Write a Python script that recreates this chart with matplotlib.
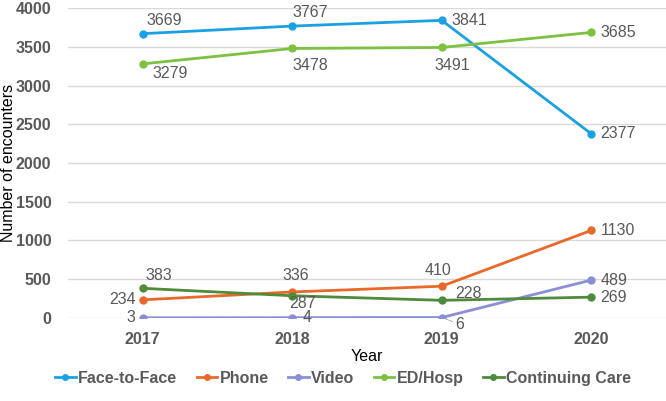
import matplotlib
matplotlib.use("Agg")
import matplotlib.pyplot as plt

plt.rcParams['font.family'] = ['Liberation Sans', 'DejaVu Sans']

years = ['2017', '2018', '2019', '2020']
face_to_face = [3669, 3767, 3841, 2377]
phone = [234, 336, 410, 1130]
video = [3, 4, 6, 489]
ed_hosp = [3279, 3478, 3491, 3685]
continuing_care = [383, 287, 228, 269]

series = [
    ('Face-to-Face', face_to_face, '#1ba1e2'),
    ('Phone', phone, '#e8692a'),
    ('Video', video, '#8a8fd4'),
    ('ED/Hosp', ed_hosp, '#7dc142'),
    ('Continuing Care', continuing_care, '#4e8b3a'),
]

# label offsets in pixels (dx, dy up-positive) and alignment
label_pos = {
    'Face-to-Face': [(22, 13, 'center'), (18, 14, 'center'), (10, 0, 'left'), (9, 0, 'left')],
    'Phone': [(-7, 0, 'right'), (4, 16, 'center'), (-4, 16, 'center'), (10, 0, 'left')],
    'Video': [(-7, 0, 'right'), (10, 0, 'left'), (14, -7, 'left'), (9, 0, 'left')],
    'ED/Hosp': [(27, -10, 'center'), (18, -17, 'center'), (11, -18, 'center'), (9, 0, 'left')],
    'Continuing Care': [(16, 13, 'center'), (10, -8, 'center'), (14, 7, 'left'), (9, 0, 'left')],
}

fig = plt.figure(figsize=(6.66, 4.01), dpi=100)
ax = fig.add_axes([0.102, 0.207, 0.898, 0.773])

x = range(len(years))
for name, vals, col in series:
    ax.plot(x, vals, '-o', color=col, lw=2, ms=5, label=name, zorder=3)
    for i, v in enumerate(vals):
        dx, dy, ha = label_pos[name][i]
        arrow = None
        if name == 'Video' and i == 2:
            arrow = dict(arrowstyle='-', color='#a6a6a6', lw=0.6, shrinkA=0, shrinkB=3)
        ax.annotate(str(v), (i, v), xytext=(dx, dy), textcoords='offset pixels',
                    ha=ha, va='center', fontsize=11.5, color='#595959',
                    arrowprops=arrow)

ax.set_xlim(-0.5, 3.5)
ax.set_ylim(0, 4000)
ax.set_yticks(range(0, 4001, 500))
ax.set_xticks(list(x))
ax.set_xticklabels(years)
ax.grid(axis='y', color='#d9d9d9', lw=1)
ax.set_axisbelow(True)
for s in ax.spines.values():
    s.set_visible(False)
ax.tick_params(length=0, labelsize=11.5, labelcolor='#595959')
ax.tick_params(axis='x', pad=10)
ax.tick_params(axis='y', pad=12)
for lbl in ax.get_xticklabels() + ax.get_yticklabels():
    lbl.set_fontweight('bold')

ax.set_xlabel('Year', fontsize=11.5, color='black')
ax.xaxis.set_label_coords(0.5, -0.1)
ax.set_ylabel('Number of encounters', fontsize=11.5, color='black')
ax.yaxis.set_label_coords(-0.086, 0.5)

leg = fig.legend(*ax.get_legend_handles_labels(), loc='center', bbox_to_anchor=(0.515, 0.056),
                 ncol=5, frameon=False, fontsize=11.5, handlelength=1.3, handletextpad=0.15,
                 columnspacing=1.2, markerscale=0.8)
for t in leg.get_texts():
    t.set_color('#595959')
    t.set_fontweight('bold')

fig.savefig('out.png', dpi=100)
